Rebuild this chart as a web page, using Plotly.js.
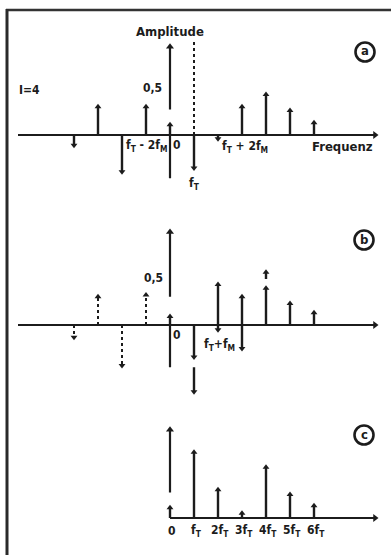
<!DOCTYPE html>
<html>
<head>
<meta charset="utf-8">
<script src="https://cdn.plot.ly/plotly-3.0.1.min.js"></script>
<style>
html,body{margin:0;padding:0;background:#ffffff;}
#chart{width:391px;height:555px;}
</style>
</head>
<body>
<div id="chart"></div>
<script>
// ---------- DATA (frequencies in units of f_M = f_T) ----------
// Panel (a): FM spectrum, I = 4
const freqA = [-4, -3, -2, -1, 0, 1, 2, 3, 4, 5, 6];
const ampA  = [-0.11, 0.30, -0.39, 0.30, 0.11, -0.35, -0.04, 0.30, 0.43, 0.26, 0.13];
// Panel (b): negative-frequency lines (dotted) and folded lines (solid)
const freqBneg = [-4, -3, -2, -1];
const ampBneg  = [-0.13, 0.30, -0.43, 0.32];
const freqB = [0, 1, 1, 2, 2, 3, 3, 4, 4, 5, 6];
const baseB = [0, 0, -0.45, 0, 0, 0, 0, 0, 0.49, 0, 0];
const tipB  = [0.09, -0.34, -0.71, 0.43, -0.05, 0.30, -0.25, 0.39, 0.56, 0.23, 0.13];
// Panel (c): resulting magnitude spectrum
const freqC = [0, 1, 2, 3, 4, 5, 6];
const ampC  = [0.11, 0.70, 0.30, 0.05, 0.54, 0.25, 0.13];
const tickLabelsC = ['0', 'f<sub>T</sub>', '2f<sub>T</sub>', '3f<sub>T</sub>', '4f<sub>T</sub>', '5f<sub>T</sub>', '6f<sub>T</sub>'];
const carrierFreq = 1;

// ---------- LAYOUT HELPERS ----------
const W = 391, H = 555;
const X0 = 170, DX = 24, UNIT = 94;
const INK = '#1c1c1c';
const FONT = '"DejaVu Sans Condensed", "Liberation Sans Narrow", "DejaVu Sans", sans-serif';
function yax(zeroPx, lo, hi) {
  const top = zeroPx - hi * UNIT, bot = zeroPx - lo * UNIT;
  return {domain: [(H - bot) / H, (H - top) / H], range: [lo, hi], visible: false,
          showgrid: false, zeroline: false, fixedrange: true};
}
const px = v => v / W;
const py = v => 1 - v / H;

function stems(xs, bases, tips, yaxis, dash, width) {
  const lx = [], ly = [];
  xs.forEach((x, i) => { lx.push(x, x, null); ly.push(bases[i], tips[i], null); });
  const line = {x: lx, y: ly, yaxis: yaxis, mode: 'lines', hoverinfo: 'skip',
                line: {color: INK, width: width || 2.4, dash: dash || 'solid'}, cliponaxis: false};
  const heads = {x: xs, y: tips, yaxis: yaxis, mode: 'markers', hoverinfo: 'skip', cliponaxis: false,
                 marker: {color: INK, size: 6,
                          symbol: tips.map((t, i) => t >= bases[i] ? 'triangle-up' : 'triangle-down')}};
  return [line, heads];
}
function seg(x0, y0, x1, y1, yaxis, width, dash) {
  return {x: [x0, x1], y: [y0, y1], yaxis: yaxis, mode: 'lines', hoverinfo: 'skip', cliponaxis: false,
          line: {color: INK, width: width || 2.2, dash: dash || 'solid'}};
}
function head(x, y, yaxis, sym, size) {
  return {x: [x], y: [y], yaxis: yaxis, mode: 'markers', hoverinfo: 'skip', cliponaxis: false,
          marker: {color: INK, size: size || 7, symbol: sym}};
}

const xL = (18 - X0) / DX, xR = (375 - X0) / DX;
const traces = [];
// ---- panel a ----
traces.push(seg(xL, 0, xR, 0, 'y'));
traces.push(head(xR, 0, 'y', 'triangle-right', 7));
traces.push(seg(0, -0.46, 0, 0, 'y'));
traces.push(seg(0, 0.27, 0, 0.94, 'y'));
traces.push(head(0, 0.94, 'y', 'triangle-up', 7));
traces.push(seg(carrierFreq, 0, carrierFreq, 1.0, 'y', 2, 'dot'));
traces.push(...stems(freqA, freqA.map(() => 0), ampA, 'y'));
// ---- panel b ----
traces.push(seg(xL, 0, xR, 0, 'y2'));
traces.push(head(xR, 0, 'y2', 'triangle-right', 7));
traces.push(seg(0, -0.45, 0, 0, 'y2'));
traces.push(seg(0, 0.30, 0, 0.99, 'y2'));
traces.push(head(0, 0.99, 'y2', 'triangle-up', 7));
traces.push(...stems(freqBneg, freqBneg.map(() => 0), ampBneg, 'y2', 'dot', 2));
traces.push(...stems(freqB, baseB, tipB, 'y2'));
// ---- panel c ----
traces.push(seg(0, 0, xR, 0, 'y3'));
traces.push(head(xR, 0, 'y3', 'triangle-right', 7));
traces.push(seg(0, 0.27, 0, 0.94, 'y3'));
traces.push(head(0, 0.94, 'y3', 'triangle-up', 7));
traces.push(...stems(freqC, freqC.map(() => 0), ampC, 'y3'));

function txt(text, x, y, size, xanchor, extra) {
  return Object.assign({text: text, xref: 'paper', yref: 'paper', x: px(x), y: py(y), showarrow: false,
          xanchor: xanchor || 'center', yanchor: 'middle',
          font: {family: FONT, size: size || 12, color: INK, weight: 'bold'}}, extra || {});
}
const annotations = [
  txt('Amplitude', 170, 32, 13),
  txt('I=4', 17, 90, 12, 'left'),
  txt('0,5', 164, 88, 12, 'right'),
  txt('Frequenz', 375, 147, 13, 'right'),
  txt('f<sub>T</sub> - 2f<sub>M</sub>', 124, 146, 12, 'left'),
  txt('0', 177, 145, 12),
  txt('f<sub>T</sub> + 2f<sub>M</sub>', 220, 147, 12, 'left'),
  txt('f<sub>T</sub>', 194, 184, 12),
  txt('a', 365, 51, 13),
  txt('0,5', 165, 278, 12, 'right'),
  txt('0', 177, 335, 12),
  txt('f<sub>T</sub>+f<sub>M</sub>', 202, 345, 12, 'left'),
  txt('b', 364, 239, 13),
  txt('c', 364, 434, 13)
];
freqC.forEach((f, i) => annotations.push(txt(tickLabelsC[i], X0 + DX * f + 2, 531, 12)));

function circ(cx, cy, r) {
  return {type: 'circle', xref: 'paper', yref: 'paper', x0: px(cx - r), x1: px(cx + r),
          y0: py(cy + r), y1: py(cy - r), line: {color: INK, width: 2.6}};
}
const shapes = [
  {type: 'line', xref: 'paper', yref: 'paper', x0: px(6), x1: px(391), y0: py(10), y1: py(10), line: {color: '#333', width: 2.5}},
  {type: 'line', xref: 'paper', yref: 'paper', x0: px(7), x1: px(7), y0: py(9), y1: py(555), line: {color: '#2a2a2a', width: 3}},
  circ(365, 52, 9.5), circ(364, 240, 9.5), circ(364, 435, 9.5)
];

const layout = {
  width: W, height: H, margin: {l: 0, r: 0, t: 0, b: 0, pad: 0},
  paper_bgcolor: '#ffffff', plot_bgcolor: 'rgba(0,0,0,0)', showlegend: false,
  xaxis: {range: [(0 - X0) / DX, (W - X0) / DX], visible: false, showgrid: false, zeroline: false, fixedrange: true},
  yaxis: yax(135, -0.65, 1.05),
  yaxis2: yax(325, -0.8, 1.05),
  yaxis3: yax(518, -0.35, 1.05),
  annotations: annotations, shapes: shapes
};
Plotly.newPlot('chart', traces, layout, {staticPlot: true, displayModeBar: false});
</script>
</body>
</html>
